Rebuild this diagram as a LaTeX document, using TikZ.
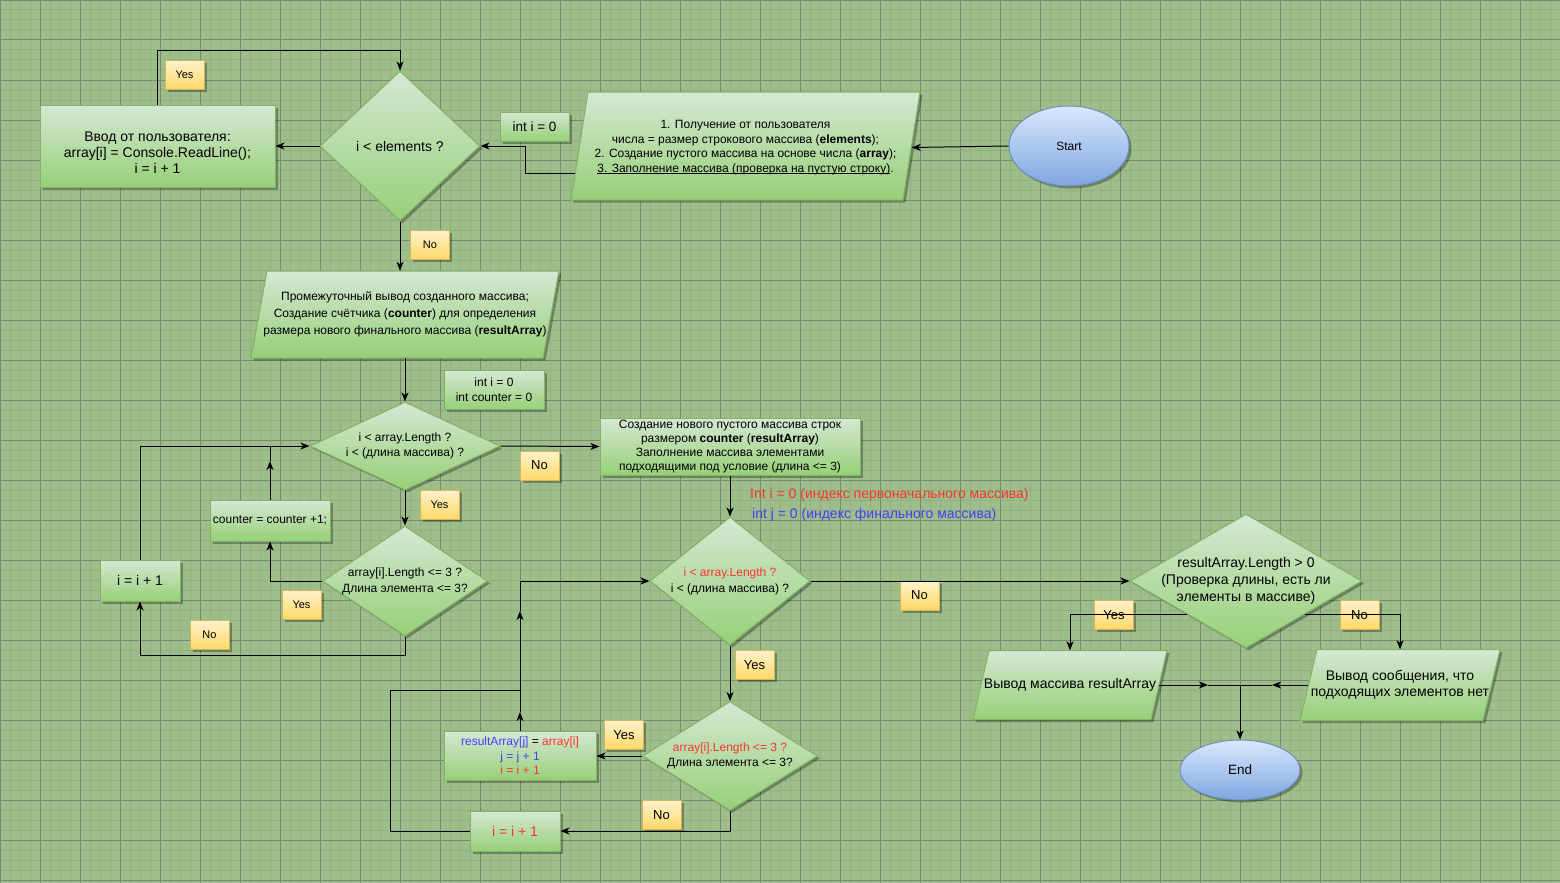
\documentclass[tikz,border=0pt]{standalone}
\usepackage{fontspec}
\setmainfont{Liberation Sans}
\usetikzlibrary{shapes.geometric,arrows.meta,shadows,calc}

\definecolor{bgcol}{HTML}{9DBE8B}
\definecolor{gridminor}{HTML}{91B180}
\definecolor{gridmajor}{HTML}{778C6C}
\definecolor{gtop}{HTML}{D5E8D4}
\definecolor{gbot}{HTML}{97D077}
\definecolor{gline}{HTML}{82B366}
\definecolor{ytop}{HTML}{FFF2CC}
\definecolor{ybot}{HTML}{FFD966}
\definecolor{yline}{HTML}{D6B656}
\definecolor{btop}{HTML}{DAE8FC}
\definecolor{bbot}{HTML}{7EA6E0}
\definecolor{bline}{HTML}{6C8EBF}
\definecolor{txtred}{HTML}{FF3333}
\definecolor{txtblue}{HTML}{4040FF}

% underline drawn just under the baseline
\newcommand\lineunder[1]{\setbox0\hbox{#1}\rlap{\rule[-1.6pt]{\wd0}{0.7pt}}\box0}

\tikzset{
  fnt/.style 2 args={font=\fontsize{#1}{#2}\selectfont},
  dshadow/.style={drop shadow={shadow xshift=2.5pt,shadow yshift=-2.5pt,opacity=0.3,fill=black}},
  procbox/.style={rectangle, draw=gline, line width=1pt, top color=gtop, bottom color=gbot,
    inner sep=0pt, align=center, dshadow},
  flagbox/.style={rectangle, draw=yline, line width=1pt, top color=ytop, bottom color=ybot,
    minimum width=39, minimum height=29, inner sep=0pt, dshadow},
  decision/.style={diamond, draw=gline, line width=1pt, top color=gtop, bottom color=gbot,
    inner sep=0pt, aspect=1, dshadow},
  terminal/.style={ellipse, draw=bline, line width=1pt, top color=btop, bottom color=bbot,
    inner sep=0pt, dshadow},
  iofill/.style={draw=gline, line width=1pt, top color=gtop, bottom color=gbot, dshadow},
  iotext/.style={rectangle, inner sep=0pt, align=center},
  dtext/.style={align=center, inner sep=0pt},
  arr/.style={-{Stealth[length=9pt,width=7pt,inset=2.5pt]}, line width=1pt},
  link/.style={line width=1pt},
}

% data input/output shape: name, cx, cy, width at mid-height, height, top shift, options, text
\newcommand\ioshape[8]{%
  \path[iofill] ({#2-#4/2+#6},{#3-#5/2}) -- ({#2+#4/2+#6},{#3-#5/2})
     -- ({#2+#4/2-#6},{#3+#5/2}) -- ({#2-#4/2-#6},{#3+#5/2}) -- cycle;
  \node[iotext, minimum width=#4, minimum height=#5, #7] (#1) at (#2,#3) {#8};
}

\begin{document}
\begin{tikzpicture}[x=1pt,y=-1pt]
\useasboundingbox (0,0) rectangle (1560,883);

% squared paper
\fill[bgcol] (0,0) rectangle (1560,883);
\begin{scope}[y=1pt]
  \draw[gridminor, line width=1pt, step=10] (0,-883) grid (1560,0);
  \draw[gridmajor, line width=1pt, step=40] (0,-883) grid (1560,0);
\end{scope}

% ---------- first stage: reading the array ----------
\node[terminal, minimum width=120, minimum height=80, fnt={12}{14}] (start) at (1069,146) {Start};

\ioshape{p1}{745.5}{146}{332}{108}{8.5}{fnt={12}{14.5}, yshift=-1.5pt}{1. Получение от пользователя\\
  числа = размер строкового массива (\textbf{elements});\\
  2. Создание пустого массива на основе числа (\textbf{array});\\
  \lineunder{3. Заполнение массива (проверка на пустую строку)}.}

\node[procbox, minimum width=69, minimum height=29, fnt={13.5}{16}] (init1) at (534.5,126.5) {int i = 0};

\node[decision, minimum width=160, minimum height=150] (d1) at (400,146) {};
\node[dtext, fnt={14}{16}] (d1t) at (d1) {i < elements ?};

\node[procbox, minimum width=235, minimum height=82] (input) at (157.5,146) {};
\node[dtext, fnt={14}{16}] (inputt) at (157.5,153) {Ввод от пользователя:\\array[i] = Console.ReadLine();\\i = i + 1};

\node[flagbox, fnt={11}{13}] (yes1) at (184.5,75) {Yes};
\node[flagbox, fnt={11}{13}] (no1) at (430,245) {No};

% ---------- second stage: counting suitable items ----------
\ioshape{p2}{405}{314.5}{292}{87}{8}{fnt={12}{17}}{Промежуточный вывод созданного массива;\\
  Создание счётчика (\textbf{counter}) для определения\\
  размера нового финального массива (\textbf{resultArray})}

\node[procbox, minimum width=100, minimum height=39, fnt={12}{15}] (init2) at (494,390) {int i = 0\\int counter = 0};

\node[decision, minimum width=190, minimum height=88] (d2) at (405,446) {};
\node[dtext, fnt={12}{15}] (d2t) at (d2) {i < array.Length ?\\i < (длина массива) ?};

\node[flagbox, fnt={13}{15}] (no2) at (539.5,465.5) {No};
\node[flagbox, fnt={11}{13}] (yes2) at (439.5,504.5) {Yes};

\node[decision, minimum width=165, minimum height=110] (d3) at (405,581) {};
\node[dtext, fnt={12}{16}] (d3t) at (d3) {array[i].Length <= 3 ?\\Длина элемента <= 3?};

\node[procbox, minimum width=120, minimum height=41, fnt={12}{14}] (counter) at (270,520.5) {counter = counter +1;};
\node[procbox, minimum width=80, minimum height=41, fnt={14}{16}] (inc1) at (140,580.5) {i = i + 1};

\node[flagbox, fnt={11}{13}] (yes3) at (301.5,605) {Yes};
\node[flagbox, fnt={11}{13}] (no3) at (209.5,635) {No};

% ---------- third stage: filling the result array ----------
\node[procbox, minimum width=260, minimum height=57, fnt={12}{14}] (create) at (730,446.5)
  {Создание нового пустого массива строк\\размером \textbf{counter} (\textbf{resultArray})\\
   Заполнение массива элементами\\подходящими под условие (длина <= 3)};

\node[anchor=west, inner sep=0pt, fnt={14}{16}, text=txtred] (noteI) at (750,495) {Int i = 0 (индекс первоначального массива)};
\node[anchor=west, inner sep=0pt, fnt={14}{16}, text=txtblue] (noteJ) at (752,515) {int j = 0 (индекс финального массива)};

\node[decision, minimum width=160, minimum height=128] (d4) at (730,581) {};
\node[dtext, fnt={12}{16}] (d4t) at (d4) {\textcolor{txtred}{i < array.Length ?}\\i < (длина массива) ?};

\node[flagbox, fnt={13}{15}] (no4) at (919.5,595.5) {No};
\node[flagbox, fnt={13}{15}] (yes4) at (754.5,665) {Yes};

\node[decision, minimum width=175, minimum height=109] (d6) at (730,756) {};
\node[dtext, fnt={12}{15}] (d6t) at (d6) {\textcolor{txtred}{array[i].Length <= 3 ?}\\Длина элемента <= 3?};

\node[flagbox, fnt={13}{15}] (yes5) at (624,735) {Yes};
\node[flagbox, fnt={13}{15}] (no5) at (661.5,815) {No};

\node[procbox, minimum width=152, minimum height=49, fnt={12}{14.5}] (res) at (520,756)
  {\textcolor{txtblue}{resultArray[j]} = \textcolor{txtred}{array[i]}\\
   \textcolor{txtblue}{j = j + 1}\\\textcolor{txtred}{i = i + 1}};
\node[procbox, minimum width=90, minimum height=40, fnt={14}{16}, text=txtred] (inc2) at (515,831) {i = i + 1};

% ---------- final stage: output ----------
\node[decision, minimum width=232, minimum height=134] (d5) at (1246,581) {};
\node[dtext, fnt={14}{17}] (d5t) at (d5) {resultArray.Length > 0\\(Проверка длины, есть ли\\элементы в массиве)};

\node[flagbox, fnt={13}{15}] (yes6) at (1114,615) {Yes};
\node[flagbox, fnt={13}{15}] (no6) at (1359.5,615) {No};

\ioshape{p3}{1070}{685}{178}{69}{8}{fnt={14}{16}}{Вывод массива resultArray}
\ioshape{p4}{1400}{685}{183}{71}{8.5}{fnt={14}{16}}{Вывод сообщения, что\\подходящих элементов нет}

\node[terminal, minimum width=120, minimum height=60, fnt={13.5}{16}] (end) at (1240,770) {End};

% ---------- connectors ----------
\coordinate (c1) at (525,146);
\coordinate (c2) at (400,51);
\coordinate (c3) at (270,446);
\coordinate (c3a) at (270,461);
\coordinate (c4) at (390,690);
\coordinate (c5) at (520,690);
\coordinate (c6) at (520,611);
\coordinate (c7) at (520,712);
\coordinate (c8) at (1240,685);
\coordinate (c9) at (1208,685);
\coordinate (c10) at (1272,685);

\draw[arr] (start.west) -- (p1.east);
\draw[arr] ([shift={(-4,26)}]p1.west) -| (c1) -- (d1.east);
\draw[arr] (d1.west) -- (input.east);
\draw[arr] (input.north) |- (c2) -- (d1.north);
\draw[arr] (d1.south) -- (d1.south |- p2.north);

\draw[arr] (p2.south) -- (d2.north);
\draw[arr] (d2.east) -- (create.west);
\draw[arr] (d2.south) -- (d3.north);
\draw[arr] (d3.west) -| (counter.south);
\draw[arr] (counter.north) -- (c3a);
\draw[link] (c3a) -- (c3);
\draw[arr] (inc1.north) |- (d2.west);
\draw[arr] (d3.south) -- ++(0,19) -| (inc1.south);

\draw[arr] (create.south) -- (d4.north);
\draw[arr] (d4.east) -- (d5.west);
\draw[arr] (d4.south) -- (d6.north);
\draw[arr] (d6.west) -- (res.east);
\draw[arr] (d6.south) |- (inc2.east);
\draw[arr] (inc2.west) -| (c4) -- (c5) -- (c6);
\draw[arr] (c6) |- (d4.west);
\draw[arr] (res.north) -- (c7);
\draw[link] (c7) -- (c5);

\draw[arr] ([shift={(-59,33)}]d5.center) -| (p3.north);
\draw[arr] ([shift={(59,33)}]d5.center) -| (p4.north);
\draw[arr] (p3.east) -- (c9);
\draw[link] (c9) -- (c8);
\draw[arr] (p4.west) -- (c10);
\draw[link] (c10) -- (c8);
\draw[arr] (c8) -- (end.north);

\end{tikzpicture}
\end{document}
